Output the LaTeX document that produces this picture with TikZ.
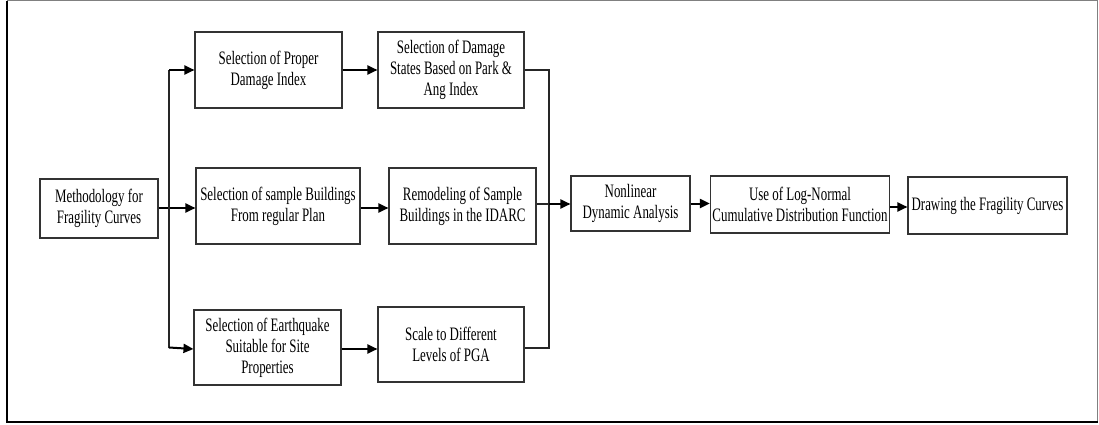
\documentclass[tikz,border=0pt]{standalone}
\usepackage{fontspec}
\setmainfont{Liberation Serif}[FakeStretch=0.68]
\usetikzlibrary{calc,arrows.meta}

\tikzset{
  stagebox/.style={draw=black!80,line width=1.1pt,align=center,inner sep=2pt,
    font=\fontsize{19}{21}\selectfont},
  flow/.style={line width=2pt,-{Triangle[length=10pt,width=9pt]}},
  link/.style={black!85,line width=1.3pt},
}

\begin{document}
\begin{tikzpicture}[x=1pt,y=-1pt]
\useasboundingbox (0,0) rectangle (1099,425);
% ---- frame
\draw[gray,line width=1pt] (7,1) rectangle (1097.5,422);
\draw[black,line width=2pt] (7,1) -- (7,422) -- (1097.5,422);
% ---- first column
\node[stagebox,minimum width=118pt,minimum height=59pt] (meth) at (99,208.5) {Methodology for\\Fragility Curves};
% ---- three branches
\node[stagebox,minimum width=147pt,minimum height=76pt] (dmgidx) at (268.5,70) {Selection of Proper\\Damage Index};
\node[stagebox,minimum width=146pt,minimum height=76pt] (dmgstate) at (451,70) {Selection of Damage\\States Based on Park \&\\Ang Index};
\node[stagebox,minimum width=164pt,minimum height=76pt] (sample) at (278,206) {Selection of sample Buildings\\From regular Plan};
\node[stagebox,minimum width=147pt,minimum height=76pt] (remodel) at (462.5,206) {Remodeling of Sample\\Buildings in the IDARC};
\node[stagebox,minimum width=147pt,minimum height=75pt] (quake) at (267.5,347.5) {Selection of Earthquake\\Suitable for Site\\Properties};
\node[stagebox,minimum width=146pt,minimum height=75pt] (pga) at (451,344.5) {Scale to Different\\Levels of PGA};
% ---- analysis chain
\node[stagebox,minimum width=119pt,minimum height=55pt] (nonlin) at (630.5,203.5) {Nonlinear\\Dynamic Analysis};
\node[stagebox,minimum width=178pt,minimum height=57pt] (lognorm) at (800,204.5) {Use of Log-Normal\\Cumulative Distribution Function};
\node[stagebox,minimum width=159pt,minimum height=57pt] (fragcurve) at (987.5,205.5) {Drawing the Fragility Curves};
% ---- split and join points
\coordinate (split) at (169,208);
\coordinate (join) at (549,204);
% ---- connectors
\draw[flow] (meth.east |- split) -- (split -| sample.west);
\draw[link] (split |- dmgidx.west) -- (split |- quake.west);
\draw[flow] (split |- dmgidx.west) -- (dmgidx.west);
\draw[flow] (split |- quake.west) -- ($(quake.west)+(0,1.5)$);
\draw[flow] (dmgidx.east) -- (dmgstate.west);
\draw[flow] ($(sample.east)+(0,2)$) -- ($(remodel.west)+(0,2)$);
\draw[flow] ($(quake.east)+(0,1.5)$) -- ($(pga.west)+(0,4.5)$);
\draw[link] (dmgstate.east) -| (join) |- ($(pga.east)+(0,3.5)$);
\draw[link] (remodel.east |- join) -- (join);
\draw[flow] (join) -- (join -| nonlin.west);
\draw[flow] (nonlin.east) -- (nonlin.east -| lognorm.west);
\draw[flow] ($(lognorm.east)+(0,2.5)$) -- ($(fragcurve.west)+(0,1.5)$);
\end{tikzpicture}
\end{document}
